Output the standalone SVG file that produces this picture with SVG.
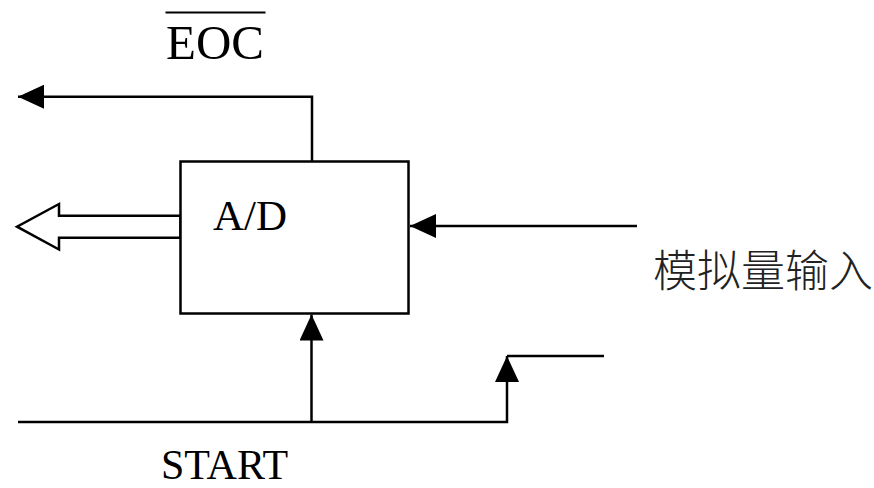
<svg xmlns="http://www.w3.org/2000/svg" width="874" height="488" viewBox="0 0 874 488">
  <style>
    .ln { fill: none; stroke: #000; stroke-width: 2.5; }
    .serif { font-family: "Liberation Serif", "Times New Roman", serif; fill: #000; }
    .cjk { font-family: "Noto Sans CJK SC", "Noto Sans", sans-serif; fill: #222; font-weight: 300; }
  </style>
  <defs>
    <marker id="arr" markerUnits="userSpaceOnUse" markerWidth="26" markerHeight="24" refX="26" refY="12" orient="auto" viewBox="0 0 26 24">
      <path d="M0,0 L26,12 L0,24 Z" fill="#000"/>
    </marker>
  </defs>
  <rect width="874" height="488" fill="#fff"/>

  <g id="connectors">
    <path id="eoc-out" class="ln" d="M312,161.5 V96.7 H18" marker-end="url(#arr)"/>
    <polygon id="data-out" points="180.5,215.7 59,215.7 59,204 17,226.7 59,249.5 59,237.7 180.5,237.7" fill="#fff" stroke="#000" stroke-width="2.5" stroke-linejoin="miter"/>
    <path id="analog-in" class="ln" d="M637,226 H410" marker-end="url(#arr)"/>
    <path id="start-in" class="ln" d="M311.5,422 V314.5" marker-end="url(#arr)"/>
    <path id="start-line" class="ln" d="M18,422 H507 V356" marker-end="url(#arr)"/>
    <path id="start-step" class="ln" d="M507,356 H604"/>
  </g>

  <g id="ad">
    <rect x="180.5" y="161.5" width="228" height="152" fill="#fff" stroke="#000" stroke-width="2.5"/>
    <text class="serif" x="213" y="230" font-size="43">A/D</text>
  </g>

  <g id="eoc-label">
    <line x1="165.5" y1="12.5" x2="265.5" y2="12.5" stroke="#000" stroke-width="2"/>
    <text class="serif" x="215" y="59" font-size="49" text-anchor="middle">EOC</text>
  </g>

  <g id="start-label">
    <text class="serif" x="224.5" y="479" font-size="42" text-anchor="middle">START</text>
  </g>

  <g id="analog-label">
    <text class="cjk" x="653" y="287" font-size="44">模拟量输入</text>
  </g>
</svg>
